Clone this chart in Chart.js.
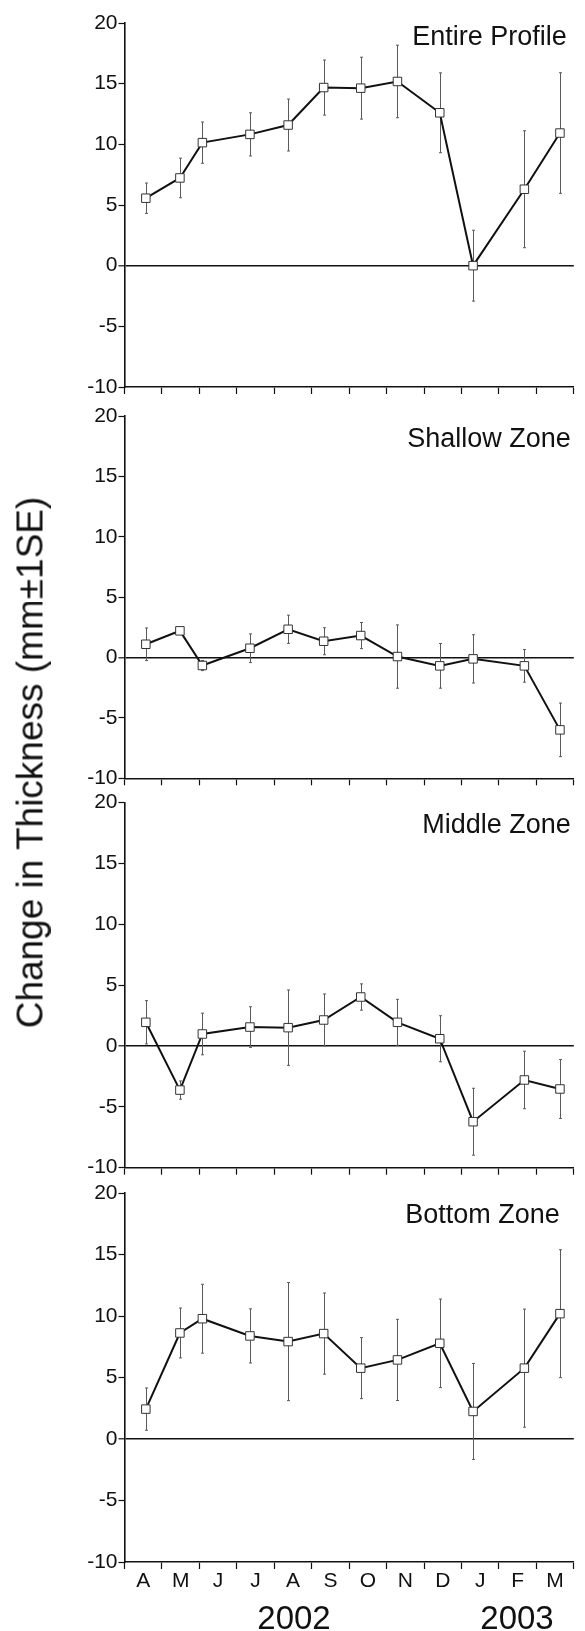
<!DOCTYPE html>
<html>
<head>
<meta charset="utf-8">
<script src="https://cdn.jsdelivr.net/npm/chart.js@4.4.1/dist/chart.umd.min.js"></script>
<style>
  body { margin: 0; background: #fff; }
  #wrap { position: relative; width: 585px; height: 1631px; overflow: hidden; font-family: "Liberation Sans", Arial, sans-serif; color: #111; }
  canvas { position: absolute; left: 0; }
  .ytitle { position: absolute; width: 700px; left: -320px; top: 743.5px; height: 37px; line-height: 37px; font-size: 37px; text-align: center; transform: rotate(-90deg); white-space: nowrap; }
  .year { position: absolute; top: 1601px; width: 120px; font-size: 33px; line-height: 33px; text-align: center; }
</style>
</head>
<body>
<div id="wrap">
  <canvas id="c1" width="585" height="400" style="top:0px"></canvas>
  <canvas id="c2" width="585" height="392" style="top:400px"></canvas>
  <canvas id="c3" width="585" height="396" style="top:785px"></canvas>
  <canvas id="c4" width="585" height="456" style="top:1175px"></canvas>
  <div class="ytitle">Change in Thickness (mm±1SE)</div>
  <div class="year" id="y1" style="left:234px"></div>
  <div class="year" id="y2" style="left:457px"></div>
</div>
<script>
// months Apr 2002 - Mar 2003
var months = ['A', 'M', 'J', 'J', 'A', 'S', 'O', 'N', 'D', 'J', 'F', 'M'];
var years = ['2002', '2003'];
// sampling dates, in months since 1 April 2002
var sampleMonth = [0.57, 1.48, 2.08, 3.35, 4.37, 5.32, 6.31, 7.29, 8.42, 9.31, 10.68, 11.63];
var panelNames = ['Entire Profile', 'Shallow Zone', 'Middle Zone', 'Bottom Zone'];

var entireMean = [5.56, 7.23, 10.14, 10.82, 11.59, 14.68, 14.63, 15.18, 12.6, 0.0, 6.3, 10.93];
var entireSE = [1.25, 1.63, 1.7, 1.78, 2.14, 2.27, 2.55, 2.99, 3.29, 2.92, 4.82, 4.97];
var shallowMean = [1.1, 2.21, -0.66, 0.77, 2.34, 1.35, 1.82, 0.08, -0.69, -0.11, -0.69, -5.99];
var shallowSE = [1.35, 0.25, 0.42, 1.19, 1.17, 1.12, 1.08, 2.62, 1.85, 2.0, 1.35, 2.22];
var middleMean = [1.95, -3.62, 0.99, 1.56, 1.51, 2.14, 4.03, 1.95, 0.6, -6.22, -2.79, -3.53];
var middleSE = [1.78, 0.75, 1.71, 1.67, 3.1, 2.14, 1.08, 1.89, 1.89, 2.75, 2.36, 2.42];
var bottomMean = [2.43, 8.62, 9.78, 8.38, 7.92, 8.57, 5.76, 6.43, 7.78, 2.24, 5.76, 10.19];
var bottomSE = [1.72, 2.03, 2.8, 2.2, 4.8, 3.3, 2.48, 3.3, 3.6, 3.9, 4.8, 5.2];

var means = [entireMean, shallowMean, middleMean, bottomMean];
var errors = [entireSE, shallowSE, middleSE, bottomSE];

// canvas ids and placement of each panel
var panels = [
    { id: 'c1', padTop: 23, xHeight: 13, labelDx: 7, labelDy: 22 },
    { id: 'c2', padTop: 16, xHeight: 13.7, labelDx: 3, labelDy: 30.5 },
    { id: 'c3', padTop: 17.7, xHeight: 13.3, labelDx: 3, labelDy: 30.5 },
    { id: 'c4', padTop: 18, xHeight: 69, labelDx: 14, labelDy: 30 }
];

var FONT = '"Liberation Sans", Arial, sans-serif';
var INK = '#111';

document.getElementById('y1').textContent = years[0];
document.getElementById('y2').textContent = years[1];

// error bars (behind the markers) and the panel name
var errorBars = {
    id: 'errorBars',
    beforeDatasetsDraw: function (chart) {
        var se = chart.options.plugins.errorBars.se;
        var mean = chart.options.plugins.errorBars.mean;
        var xs = chart.scales.xl, ys = chart.scales.y;
        var ctx = chart.ctx;
        ctx.save();
        ctx.strokeStyle = '#5a5a5a';
        ctx.lineWidth = 1;
        for (var i = 0; i < mean.length; i++) {
            var px = Math.round(xs.getPixelForValue(sampleMonth[i])) + 0.5;
            var top = ys.getPixelForValue(mean[i] + se[i]);
            var bot = ys.getPixelForValue(mean[i] - se[i]);
            ctx.beginPath();
            ctx.moveTo(px, top); ctx.lineTo(px, bot);
            ctx.moveTo(px - 1.5, top); ctx.lineTo(px + 1.5, top);
            ctx.moveTo(px - 1.5, bot); ctx.lineTo(px + 1.5, bot);
            ctx.stroke();
        }
        ctx.restore();
    },
    afterDraw: function (chart) {
        var o = chart.options.plugins.errorBars;
        var ctx = chart.ctx;
        ctx.save();
        ctx.font = '27px ' + FONT;
        ctx.fillStyle = INK;
        ctx.textAlign = 'right';
        ctx.textBaseline = 'alphabetic';
        ctx.fillText(o.name, chart.chartArea.right - o.dx, chart.chartArea.top + o.dy);
        ctx.restore();
    }
};

panels.forEach(function (p, k) {
    var last = k === panels.length - 1;
    var ctx = document.getElementById(p.id);

    var chartData = {
        labels: months,
        datasets: [{
            data: sampleMonth.map(function (t, i) { return { x: t, y: means[k][i] }; }),
            xAxisID: 'xl',
            yAxisID: 'y',
            borderColor: INK,
            borderWidth: 2,
            tension: 0,
            pointStyle: 'rect',
            pointRadius: 6,
            pointBackgroundColor: '#fff',
            pointBorderColor: '#333',
            pointBorderWidth: 1
        }]
    };

    var chartOptions = {
        responsive: false,
        animation: false,
        layout: { padding: { left: 44.5, right: 11.2, top: p.padTop, bottom: 0 } },
        plugins: {
            legend: { display: false },
            tooltip: { enabled: false },
            errorBars: { mean: means[k], se: errors[k], name: panelNames[k], dx: p.labelDx, dy: p.labelDy }
        },
        scales: {
            x: {
                type: 'category',
                labels: months,
                offset: true,
                grid: { offset: true, drawOnChartArea: false, color: INK, tickLength: 7, tickWidth: 1.2 },
                border: { display: true, color: INK, width: 1.6 },
                ticks: { display: last, color: INK, font: { size: 21, family: FONT }, padding: 0, maxRotation: 0, autoSkip: false },
                afterFit: function (s) { s.height = p.xHeight; s.paddingLeft = 0; s.paddingRight = 0; }
            },
            xl: { type: 'linear', min: 0, max: 12, display: false },
            y: {
                min: -10,
                max: 20,
                ticks: { stepSize: 5, color: INK, font: { size: 21, family: FONT }, padding: 1 },
                grid: {
                    drawOnChartArea: true,
                    color: function (c) { return c.tick && c.tick.value === 0 ? INK : 'rgba(0,0,0,0)'; },
                    lineWidth: function (c) { return c.tick && c.tick.value === 0 ? 1.6 : 1; },
                    tickColor: INK,
                    tickLength: 6,
                    tickWidth: 1.2
                },
                border: { display: true, color: INK, width: 1.6 },
                afterFit: function (s) { s.width = 80; s.paddingTop = 0; s.paddingBottom = 0; }
            }
        }
    };

    new Chart(ctx, { type: 'line', data: chartData, options: chartOptions, plugins: [errorBars] });
});
</script>
</body>
</html>
